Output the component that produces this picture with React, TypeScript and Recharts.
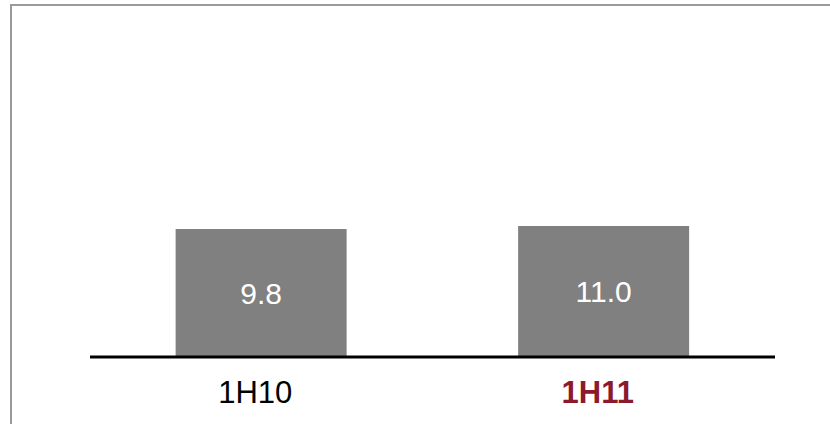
import React from 'react';
import { BarChart, Bar, XAxis, YAxis, LabelList } from 'recharts';

// Categories and values
const periods = ['1H10', '1H11'];
const values = [9.8, 11.0];
const highlighted = ['1H11'];

// The source draws bars from a visual baseline, not from zero
const AXIS_MIN = -41.4;
const AXIS_MAX = 61.4;

const data = periods.map((p, i) => ({ period: p, value: values[i] }));

const PeriodTick = ({ x, y, payload }: any) => {
  const hot = highlighted.includes(payload.value);
  return (
    <text
      x={x}
      y={y}
      dx={-6}
      dy="0.71em"
      textAnchor="middle"
      fontSize={31}
      fontWeight={hot ? 700 : 400}
      fill={hot ? '#8b1a2d' : '#000000'}
      fontFamily="'Liberation Sans', Arial, sans-serif"
    >
      {payload.value}
    </text>
  );
};

export default function App() {
  return (
    <div style={{ position: 'absolute', left: 0, top: 0, width: 830, height: 424, background: '#fff', overflow: 'hidden' }}>
      <div
        style={{
          position: 'absolute',
          left: 10,
          top: 4,
          width: 840,
          height: 440,
          borderTop: '2px solid #9a9a9a',
          borderLeft: '2px solid #9a9a9a',
        }}
      />
      <div style={{ position: 'absolute', left: 0, top: 0 }}>
        <BarChart
          width={830}
          height={424}
          data={data}
          margin={{ top: 100, right: 55, bottom: 7, left: 90 }}
          barCategoryGap="25%"
        >
          <YAxis hide domain={[AXIS_MIN, AXIS_MAX]} allowDataOverflow />
          <XAxis
            dataKey="period"
            height={60}
            axisLine={{ stroke: '#000000', strokeWidth: 3 }}
            tickLine={false}
            tickMargin={18}
            tick={<PeriodTick />}
            interval={0}
          />
          <Bar
            dataKey={(d: any) => [AXIS_MIN, d.value]}
            fill="#808080"
            isAnimationActive={false}
          >
            <LabelList
              dataKey="value"
              position="center"
              formatter={(v: any) => Number(v).toFixed(1)}
              fill="#ffffff"
              style={{ fontSize: 30, fontFamily: "'Liberation Sans', Arial, sans-serif" }}
            />
          </Bar>
        </BarChart>
      </div>
    </div>
  );
}
